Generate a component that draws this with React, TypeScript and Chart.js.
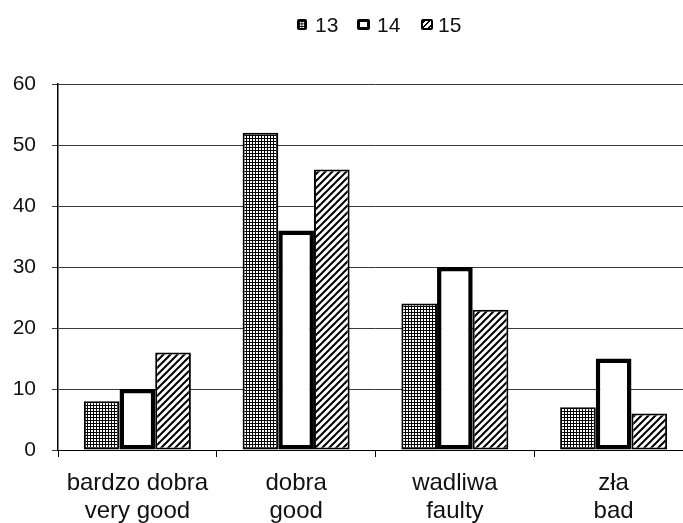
import React, { useEffect, useRef } from "react";
import { Chart, registerables } from "chart.js";

Chart.register(...registerables);

const categories: string[][] = [
  ["bardzo dobra", "very good"],
  ["dobra", "good"],
  ["wadliwa", "faulty"],
  ["zła", "bad"],
];
const seriesNames = ["13", "14", "15"];
const series13 = [8, 52, 24, 7];
const series14 = [10, 36, 30, 15];
const series15 = [16, 46, 23, 6];
const yMin = 0;
const yMax = 60;
const yStep = 10;

const FONT = "'Liberation Sans', Arial, sans-serif";

function makeGridPattern(): CanvasPattern | string {
  const c = document.createElement("canvas");
  c.width = 3;
  c.height = 3;
  const ctx = c.getContext("2d")!;
  ctx.fillStyle = "#fff";
  ctx.fillRect(0, 0, 3, 3);
  ctx.fillStyle = "#000";
  ctx.fillRect(0, 0, 3, 1);
  ctx.fillRect(0, 0, 1, 3);
  const main = document.createElement("canvas").getContext("2d")!;
  return main.createPattern(c, "repeat") || "#888";
}

function makeHatchPattern(): CanvasPattern | string {
  const s = 7;
  const c = document.createElement("canvas");
  c.width = s;
  c.height = s;
  const ctx = c.getContext("2d")!;
  ctx.fillStyle = "#fff";
  ctx.fillRect(0, 0, s, s);
  ctx.strokeStyle = "#000";
  ctx.lineWidth = 2;
  ctx.beginPath();
  ctx.moveTo(0, s);
  ctx.lineTo(s, 0);
  ctx.moveTo(-1, 1);
  ctx.lineTo(1, -1);
  ctx.moveTo(s - 1, s + 1);
  ctx.lineTo(s + 1, s - 1);
  ctx.stroke();
  const main = document.createElement("canvas").getContext("2d")!;
  return main.createPattern(c, "repeat") || "#888";
}

export default function App() {
  const ref = useRef<HTMLCanvasElement | null>(null);

  useEffect(() => {
    if (!ref.current) return;
    const grid = makeGridPattern();
    const hatch = makeHatchPattern();
    const chart = new Chart(ref.current, {
      type: "bar",
      data: {
        labels: categories,
        datasets: [
          {
            label: seriesNames[0],
            data: series13,
            backgroundColor: grid as any,
            borderColor: "#000",
            borderWidth: 2,
            borderSkipped: false,
          },
          {
            label: seriesNames[1],
            data: series14,
            backgroundColor: "#fff",
            borderColor: "#000",
            borderWidth: 4.5,
            borderSkipped: false,
          },
          {
            label: seriesNames[2],
            data: series15,
            backgroundColor: hatch as any,
            borderColor: "#000",
            borderWidth: 2,
            borderSkipped: false,
          },
        ],
      },
      options: {
        responsive: false,
        animation: false,
        datasets: {
          bar: { categoryPercentage: 0.674, barPercentage: 1.0 },
        },
        layout: { padding: { left: 0, right: 7, top: 84, bottom: 0 } },
        plugins: {
          legend: { display: false },
          tooltip: { enabled: false },
        },
        scales: {
          x: {
            offset: true,
            grid: {
              offset: true,
              drawOnChartArea: false,
              drawTicks: true,
              tickLength: 7,
              color: "#000",
            },
            border: { color: "#000", width: 1 },
            ticks: {
              color: "#111",
              padding: 13,
              maxRotation: 0,
              autoSkip: false,
              font: { family: FONT, size: 24, lineHeight: 1.15 },
            },
            afterFit: (s: any) => {
              s.height = 73;
            },
          },
          y: {
            min: yMin,
            max: yMax,
            grid: {
              color: "#3a3a3a",
              lineWidth: 1,
              tickLength: 6,
            },
            border: { color: "#000", width: 1.5 },
            ticks: {
              stepSize: yStep,
              color: "#111",
              padding: 16,
              font: { family: FONT, size: 21 },
            },
            afterFit: (s: any) => {
              s.width = 58;
            },
          },
        },
      },
    });
    return () => chart.destroy();
  }, []);

  const boxBase: React.CSSProperties = {
    position: "absolute",
    top: 19,
    width: 10,
    height: 11,
    boxSizing: "border-box",
    borderRadius: 2,
    border: "2px solid #000",
    background: "#fff",
  };
  const textBase: React.CSSProperties = {
    position: "absolute",
    top: 13,
    fontFamily: FONT,
    fontSize: 21,
    lineHeight: "24px",
    color: "#111",
  };

  return (
    <div
      style={{
        position: "absolute",
        left: 0,
        top: 0,
        width: 683,
        height: 523,
        overflow: "hidden",
        background: "#fff",
      }}
    >
      <canvas ref={ref} width={700} height={523} style={{ display: "block" }} />
      <span
        style={{
          ...boxBase,
          left: 297,
          backgroundImage:
            "linear-gradient(#000 1px, transparent 1px), linear-gradient(90deg, #000 1px, transparent 1px)",
          backgroundSize: "2.5px 2.5px",
        }}
      />
      <span style={{ ...textBase, left: 315 }}>{seriesNames[0]}</span>
      <span style={{ ...boxBase, left: 357, width: 13, border: "3.5px solid #000" }} />
      <span style={{ ...textBase, left: 377 }}>{seriesNames[1]}</span>
      <span
        style={{
          ...boxBase,
          left: 421,
          width: 12,
          backgroundImage:
            "repeating-linear-gradient(135deg, #000 0 1.5px, #fff 1.5px 4px)",
        }}
      />
      <span style={{ ...textBase, left: 438 }}>{seriesNames[2]}</span>
    </div>
  );
}
